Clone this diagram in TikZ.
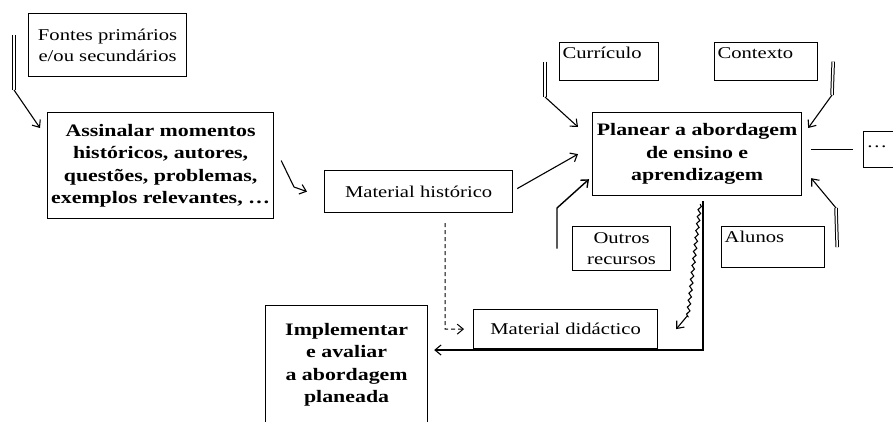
\documentclass[tikz,border=0pt]{standalone}
\usepackage{fontspec}
\setmainfont{Liberation Serif}[FakeStretch=1.25]
\usepackage{tikz}
\usetikzlibrary{arrows.meta,decorations.pathmorphing}
\tikzset{>={Straight Barb[length=6pt,width=10pt]}}
\tikzset{
  box/.style={draw, line width=1.2pt, inner sep=1pt, anchor=north west, align=center,
    font=\fontsize{16.5}{21}\selectfont},
  bigbox/.style={box, font=\fontsize{17.5}{22.5}\selectfont\bfseries},
  tagbox/.style={box, align=left, inner sep=3pt, text height=13pt},
  dline/.style={double, double distance=1.5pt, line width=1pt},
  link/.style={->, line width=1.1pt},
}

\begin{document}
\begin{tikzpicture}[x=1pt,y=-1pt]
  \useasboundingbox (0,0) rectangle (893,421);
  \clip (0,0) rectangle (893,421);

  % Nodes
  \node[box, minimum width=158pt, minimum height=63pt]    (fontes)  at (28,13)   {Fontes primários\\e/ou secundários};
  \node[bigbox, minimum width=226pt, minimum height=106pt] (assin)   at (47,112)  {Assinalar momentos\\históricos, autores,\\questões, problemas,\\exemplos relevantes, \dots};
  \node[box, minimum width=188pt, minimum height=42pt]    (mhist)   at (324,170) {Material histórico};
  \node[tagbox, text width=93pt, text depth=19pt]          (curric)  at (559,42)  {Currículo};
  \node[tagbox, text width=97pt, text depth=19pt]          (context) at (714,42)  {Contexto};
  \node[bigbox, minimum width=209pt, minimum height=83pt]  (planear) at (592,112) {Planear a abordagem\\de ensino e\\aprendizagem};
  \node[tagbox, text width=40pt, text depth=17pt]          (dots)    at (863,131) {\dots};
  \node[box, minimum width=98pt, minimum height=44pt]     (outros)  at (572,226) {Outros\\recursos};
  \node[tagbox, text width=97pt, text depth=22pt]          (alunos)  at (721,226) {Alunos};
  \node[box, minimum width=184pt, minimum height=39pt]    (mdid)    at (473,309) {Material didáctico};
  \node[bigbox, minimum width=162pt, minimum height=118pt] (impl)    at (265,305) {Implementar\\e avaliar\\a abordagem\\planeada};

  % Edges
  \coordinate (fb) at (14,90);
  \draw[dline] ([xshift=-14pt,yshift=10pt]fontes.west) -- (fb);
  \draw[link] (fb) -- ([xshift=-7pt,yshift=-16pt]assin.north west);

  \draw[link] ([xshift=7pt,yshift=5pt]assin.east) -- (294,187) -- ([xshift=-17pt]mhist.west);
  \draw[link] ([xshift=4pt,yshift=3pt]mhist.east) -- ([xshift=-14pt]planear.west);

  \coordinate (cb) at (545,97);
  \draw[dline] ([xshift=-14pt]curric.west) -- (cb);
  \draw[link] (cb) -- ([xshift=-14pt,yshift=-15pt]planear.north west);

  \coordinate (kb) at (832,95);
  \draw[dline] ([xshift=15pt]context.east) -- (kb);
  \draw[link] (kb) -- ([xshift=6pt,yshift=-16pt]planear.north east);

  \draw[link, line width=1.4pt] ([xshift=-15pt]outros.west) -- (557,208) -- ([xshift=-3pt,yshift=17pt]planear.south west);

  \coordinate (ab) at (836,208);
  \draw[dline] ([xshift=12pt]alunos.east) -- (ab);
  \draw[link] (ab) -- ([xshift=9pt,yshift=18pt]planear.south east);

  \draw[line width=1.1pt] ([xshift=9pt]planear.east |- dots.west) -- ([xshift=-10pt]dots.west);

  \draw[link, dash pattern=on 4pt off 3pt, line width=1pt] ([xshift=121pt,yshift=-10pt]mhist.south west) -- ++(0,106) -- ([xshift=-9pt]mdid.west);

  \draw[link, decorate, decoration={snake, amplitude=1.5pt, segment length=7pt, post length=16pt}]
    ([xshift=3pt,yshift=-8pt]planear.south) -- (688,315) -- ([xshift=18pt]mdid.east);

  \coordinate (pm) at (703,350);
  \draw[link] ([yshift=-5pt]planear.south -| pm) -- (pm) -- ([xshift=6pt]pm -| impl.east);
\end{tikzpicture}
\end{document}
